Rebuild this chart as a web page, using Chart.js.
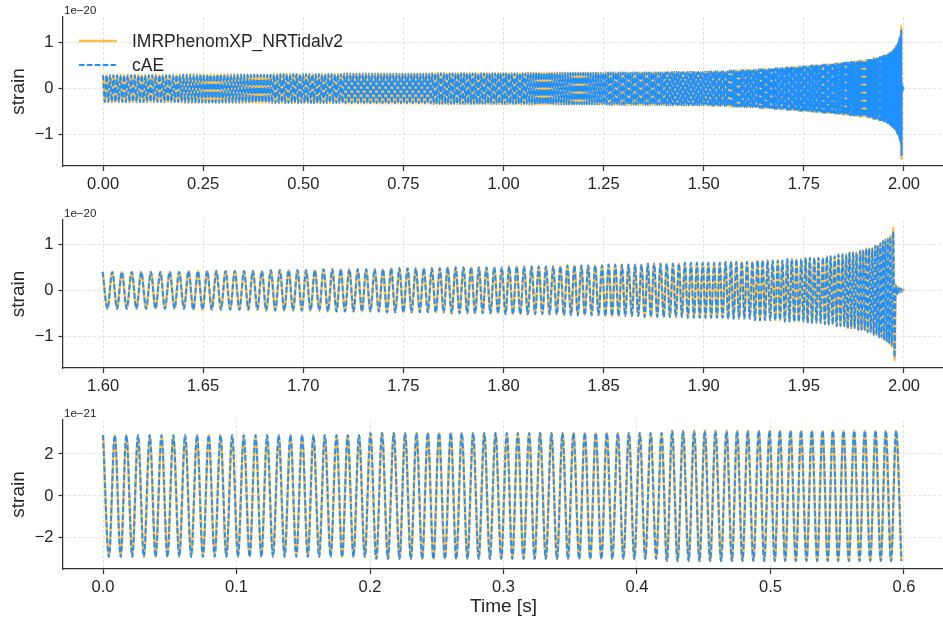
<!DOCTYPE html>
<html lang="en">
<head>
<meta charset="UTF-8">
<title>Waveform comparison</title>
<script src="https://cdn.jsdelivr.net/npm/chart.js"></script>
<style>
  * { margin: 0; padding: 0; box-sizing: border-box; }
  body { background: #fff; width: 943px; height: 629px; position: relative; overflow: hidden; }
  canvas { position: absolute; left: 0; }
  #top { top: 0; }
  #mid { top: 200px; }
  #low { top: 400px; }
</style>
</head>
<body>
<canvas id="top" width="946" height="200"></canvas>
<canvas id="mid" width="946" height="200"></canvas>
<canvas id="low" width="946" height="229"></canvas>
<script>
// times of successive maxima/minima of the strain, in ms
const tEarly = [
  0, 4.4, 8.8, 13.2, 17.5, 21.9, 26.2, 30.6, 35.0, 39.4, 43.8, 48.2, 52.6, 57.1, 61.5, 66.0, 70.4, 74.8, 79.2, 83.6,
  88.0, 92.4, 96.7, 101.1, 105.4, 109.8, 114.2, 118.6, 122.9, 127.3, 131.6, 136.0, 140.4, 144.8, 149.1, 153.4, 157.6, 161.9, 166.1, 170.5,
  174.9, 179.1, 183.3, 187.6, 191.8, 196.1, 200.3, 204.7, 209.0, 213.4, 217.8, 222.1, 226.3, 230.6, 234.8, 239.1, 243.3, 247.5, 251.7, 256.1,
  260.5, 264.6, 268.7, 273.0, 277.2, 281.4, 285.6, 289.8, 294.0, 298.3, 302.5, 306.6, 310.7, 315.0, 319.2, 323.3, 327.4, 331.7, 335.9, 340.1,
  344.2, 348.3, 352.4, 356.7, 360.9, 365.0, 369.1, 373.3, 377.4, 381.5, 385.6, 389.8, 393.9, 398.0, 402.1, 406.2, 410.3, 414.4, 418.4, 422.4,
  426.3, 430.4, 434.5, 438.7, 442.8, 446.8, 450.8, 454.8, 458.8, 463.0, 467.1, 471.1, 475.0, 479.0, 483.0, 487.2, 491.3, 495.3, 499.3, 503.2,
  507.0, 511.0, 515.0, 519.0, 522.9, 527.0, 531.0, 535.0, 539.0, 542.9, 546.7, 550.7, 554.7, 558.7, 562.7, 566.7, 570.7, 574.7, 578.7, 582.6,
  586.4, 590.3, 594.1, 598.1
];
const tMid = [
  601.9, 605.7, 609.6, 613.5, 617.4, 621.2, 625.1, 629.0, 632.9, 636.7, 640.6, 644.5, 648.4, 652.2, 656.1, 660.0, 663.9, 667.7, 671.6,
  675.4, 679.2, 683.0, 686.8, 690.6, 694.4, 698.2, 702.0, 705.8, 709.6, 713.4, 717.2, 721.0, 724.8, 728.6, 732.4, 736.2, 740.0, 743.8, 747.6,
  751.3, 755.0, 758.7, 762.4, 766.2, 769.9, 773.6, 777.3, 781.0, 784.7, 788.4, 792.2, 795.9, 799.6, 803.3, 807.0, 810.7, 814.4, 818.2, 821.9,
  825.5, 829.1, 832.8, 836.4, 840.0, 843.6, 847.3, 850.9, 854.5, 858.1, 861.8, 865.4, 869.0, 872.7, 876.3, 879.9, 883.5, 887.2, 890.8, 894.4,
  898.0, 901.5, 905.0, 908.6, 912.1, 915.7, 919.2, 922.8, 926.3, 929.8, 933.4, 936.9, 940.5, 944.0, 947.5, 951.1, 954.6, 958.2, 961.7, 965.2,
  968.7, 972.1, 975.6, 979.0, 982.5, 986.0, 989.4, 992.9, 996.3, 999.8, 1003.2, 1006.7, 1010.1, 1013.6, 1017.0, 1020.5, 1023.9, 1027.4, 1030.8, 1034.3,
  1037.6, 1041.0, 1044.4, 1047.7, 1051.1, 1054.5, 1057.8, 1061.2, 1064.5, 1067.9, 1071.3, 1074.6, 1078.0, 1081.3, 1084.7, 1088.1, 1091.4, 1094.8, 1098.2, 1101.5,
  1104.8, 1108.1, 1111.3, 1114.6, 1117.9, 1121.1, 1124.4, 1127.7, 1131.0, 1134.2, 1137.5, 1140.8, 1144.0, 1147.3, 1150.6, 1153.8, 1157.1, 1160.4, 1163.7, 1166.9,
  1170.1, 1173.3, 1176.4, 1179.6, 1182.8, 1186.0, 1189.2, 1192.3, 1195.5, 1198.7, 1201.9, 1205.0, 1208.2, 1211.4, 1214.6, 1217.7, 1220.9, 1224.1, 1227.3, 1230.5,
  1233.5, 1236.6, 1239.7, 1242.8, 1245.9, 1248.9, 1252.0, 1255.1, 1258.2, 1261.3, 1264.3, 1267.4, 1270.5, 1273.6, 1276.7, 1279.8, 1282.8, 1285.9, 1289.0, 1292.1,
  1295.1, 1298.0, 1301.0, 1304.0, 1307.0, 1310.0, 1313.0, 1315.9, 1318.9, 1321.9, 1324.9, 1327.9, 1330.9, 1333.8, 1336.8, 1339.8, 1342.8, 1345.8, 1348.8, 1351.8,
  1354.6, 1357.5, 1360.4, 1363.3, 1366.2, 1369.1, 1371.9, 1374.8, 1377.7, 1380.6, 1383.5, 1386.4, 1389.2, 1392.1, 1395.0, 1397.9, 1400.8, 1403.7, 1406.5, 1409.4,
  1412.2, 1415.0, 1417.8, 1420.6, 1423.3, 1426.1, 1428.9, 1431.7, 1434.5, 1437.2, 1440.0, 1442.8, 1445.6, 1448.4, 1451.2, 1453.9, 1456.7, 1459.5, 1462.3, 1465.1,
  1467.7, 1470.4, 1473.1, 1475.8, 1478.5, 1481.1, 1483.8, 1486.5, 1489.2, 1491.8, 1494.5, 1497.2, 1499.9, 1502.6, 1505.2, 1507.9, 1510.6, 1513.3, 1515.9, 1518.6,
  1521.2, 1523.8, 1526.3, 1528.9, 1531.5, 1534.0, 1536.6, 1539.2, 1541.7, 1544.3, 1546.9, 1549.5, 1552.0, 1554.6, 1557.2, 1559.7, 1562.3, 1564.9, 1567.4, 1570.0,
  1572.5, 1575.0, 1577.5, 1579.9, 1582.4, 1584.9, 1587.4, 1589.9, 1592.4, 1594.8, 1597.3
];
const tLate = [
  1599.8, 1602.2, 1604.6, 1607.0, 1609.4, 1611.8, 1614.3, 1616.7, 1619.1, 1621.5,
  1623.9, 1626.2, 1628.6, 1630.9, 1633.3, 1635.7, 1638.0, 1640.4, 1642.7, 1645.1,
  1647.4, 1649.7, 1652.0, 1654.3, 1656.6, 1658.9, 1661.2, 1663.5, 1665.8, 1668.1,
  1670.4, 1672.6, 1674.8, 1677.1, 1679.3, 1681.5, 1683.8, 1686.0, 1688.3, 1690.5,
  1692.7, 1694.9, 1697.1, 1699.3, 1701.4, 1703.6, 1705.8, 1708.0, 1710.1, 1712.3,
  1714.5, 1716.6, 1718.7, 1720.8, 1723.0, 1725.1, 1727.2, 1729.3, 1731.4, 1733.5,
  1735.7, 1737.7, 1739.8, 1741.8, 1743.9, 1745.9, 1748.0, 1750.0, 1752.1, 1754.1,
  1756.2, 1758.2, 1760.2, 1762.2, 1764.2, 1766.2, 1768.2, 1770.1, 1772.1, 1774.1,
  1776.1, 1778.0, 1780.0, 1781.9, 1783.8, 1785.8, 1787.7, 1789.6, 1791.5, 1793.5,
  1795.4, 1797.3, 1799.1, 1801.0, 1802.8, 1804.7, 1806.6, 1808.4, 1810.3, 1812.1,
  1814.0, 1815.8, 1817.6, 1819.4, 1821.2, 1823.0, 1824.8, 1826.6, 1828.4, 1830.2,
  1831.9, 1833.7, 1835.4, 1837.1, 1838.9, 1840.6, 1842.3, 1844.0, 1845.8, 1847.5,
  1849.2, 1850.9, 1852.5, 1854.2, 1855.8, 1857.5, 1859.1, 1860.8, 1862.4, 1864.1,
  1865.7, 1867.3, 1868.9, 1870.5, 1872.1, 1873.6, 1875.2, 1876.8, 1878.4, 1880.0,
  1881.5, 1883.1, 1884.6, 1886.1, 1887.6, 1889.1, 1890.6, 1892.1, 1893.6, 1895.1,
  1896.6, 1898.0, 1899.5, 1900.9, 1902.3, 1903.7, 1905.2, 1906.6, 1908.0, 1909.4,
  1910.9, 1912.2, 1913.6, 1914.9, 1916.3, 1917.6, 1919.0, 1920.3, 1921.6, 1923.0,
  1924.3, 1925.6, 1926.9, 1928.1, 1929.4, 1930.6, 1931.9, 1933.2, 1934.4, 1935.7,
  1937.0, 1938.1, 1939.3, 1940.5, 1941.7, 1942.8, 1944.0, 1945.2, 1946.3, 1947.5,
  1948.7, 1949.8, 1950.9, 1951.9, 1953.0, 1954.1, 1955.2, 1956.3, 1957.3, 1958.4,
  1959.5, 1960.5, 1961.5, 1962.4, 1963.4, 1964.4, 1965.4, 1966.4, 1967.3, 1968.3,
  1969.3, 1970.2, 1971.1, 1971.9, 1972.8, 1973.7, 1974.6, 1975.4, 1976.3, 1977.2,
  1978.1, 1978.8, 1979.6, 1980.4, 1981.1, 1981.9, 1982.6, 1983.4, 1984.2, 1984.9,
  1985.7, 1986.3, 1986.9, 1987.6, 1988.2, 1988.8, 1989.5, 1990.1, 1990.7, 1991.4,
  1992.0, 1992.6, 1993.2, 1993.9, 1994.6, 1995.3,
  1995.9, 1996.5, 1997.1, 1997.7, 1998.3, 1998.9, 1999.5, 2000.0
];

// strain at those extrema, in units of 1e-22 (IMRPhenomXP_NRTidalv2)
const hEarly = [
  29,-29,29,-29,29,-29,29,-29,29,-29,29,-29,29,-29,29,-29,29,-29,29,-29,29,-29,29,-29,
  29,-29,29,-29,29,-29,29,-29,29,-29,29,-29,29,-29,29,-29,29,-29,29,-29,29,-29,
  30,-30,30,-30,30,-30,30,-30,30,-30,30,-30,30,-30,30,-30,30,-30,30,-30,30,-30,30,-30,30,-30,
  30,-30,30,-30,30,-30,30,-30,30,-30,30,-30,30,-30,30,-30,30,-30,30,-30,30,-30,30,-30,30,-30,30,
  -31,31,-31,31,-31,31,-31,31,-31,31,-31,31,-31,31,-31,31,-31,31,-31,31,-31,31,-31,
  31,-31,31,-31,31,-31,31,-31,31,-31,31,-31,31,-31,31,-31,31,-31,31,-31,31,-31
];
const hMid = [
  32,-32,32,-32,32,-32,32,-32,32,-32,32,-32,32,-32,32,-32,32,-32,32,-32,32,-32,32,-32,32,-32,32,-32,32,-32,
  32,-32,32,-32,32,-32,32,-32,32,-32,32,-32,32,-32,32,-32,32,-32,32,-32,32,-32,32,-32,32,-32,32,-32,
  33,-33,33,-33,33,-33,33,-33,33,-33,33,-33,33,-33,33,-33,33,-33,33,-33,33,-33,33,-33,33,-33,33,-33,33,-33,33,-33,33,-33,
  33,-33,33,-33,33,-33,33,-33,33,-33,33,-33,33,-33,33,-33,33,-33,33,-33,33,-33,33,-33,33,-33,33,-33,33,-33,33,-33,33,-33,
  34,-34,34,-34,34,-34,34,-34,34,-34,34,-34,34,-34,34,-34,34,-34,34,-34,34,-34,34,-34,34,-34,34,-34,34,-34,
  34,-34,34,-34,34,-34,34,-34,34,-34,34,-34,34,-34,34,-34,34,-34,34,-34,34,-34,34,-34,34,-34,34,-34,34,-34,
  35,-35,35,-35,35,-35,35,-35,35,-35,35,-35,35,-35,35,-35,35,-35,35,-35,35,-35,35,-35,35,-35,
  35,-35,35,-35,35,-35,35,-35,35,-35,35,-35,35,-35,35,-35,35,-35,35,-35,35,-35,35,-35,
  36,-36,36,-36,36,-36,36,-36,36,-36,36,-36,36,-36,36,-36,36,-36,36,-36,
  36,-36,36,-36,36,-36,36,-36,36,-36,36,-36,36,-36,36,-36,36,-36,36,-36,
  37,-37,37,-37,37,-37,37,-37,37,-37,37,-37,37,-37,37,-37,37,-37,37,-37,
  39,-39,39,-39,39,-39,39,-39,39,-39,39,-39
];
const hLate = [
  40,-40,40,-40,40,-40,40,-40,40,-40,
  40,-40,40,-40,40,-40,40,-40,42,-42,
  42,-42,42,-42,42,-42,42,-42,42,-42,
  42,-42,42,-42,42,-44,44,-44,44,-44,
  44,-44,44,-44,44,-44,44,-44,46,-46,
  46,-46,46,-46,46,-46,46,-46,46,-46,
  46,-46,46,-48,48,-48,48,-48,48,-48,
  48,-48,48,-48,48,-48,48,-48,50,-50,
  50,-50,50,-50,50,-50,50,-50,50,-50,
  50,-50,50,-52,52,-52,52,-52,52,-52,
  52,-52,52,-52,52,-52,52,-52,52,-54,
  54,-54,54,-54,54,-54,54,-54,54,-54,
  54,-56,56,-56,56,-56,56,-56,56,-56,
  56,-56,56,-58,58,-58,58,-58,58,-58,
  58,-58,58,-58,58,-58,60,-60,60,-60,
  60,-60,60,-60,60,-60,60,-60,60,-60,
  62,-62,62,-62,62,-62,62,-62,62,-62,
  62,-65,65,-65,65,-65,65,-65,65,-65,
  65,-65,65,-68,68,-68,68,-68,68,-68,
  68,-68,71,-71,71,-71,71,-71,71,-71,
  71,-74,74,-74,74,-74,74,-78,78,-78,
  78,-78,78,-82,82,-82,82,-82,82,-86,
  86,-86,86,-86,91,-91,91,-91,91,-97,
  97,-97,97,-102,102,-102,107,-108,110,-111,
  113,-116,119,-123,136,-152,
  12,-9,7,-5,4,-3,2,0
];
// cAE follows the same track but peaks a little lower through the merger
const hTailCAE = [111,-114,116,-119,128,-146, 11,-8,6,-5,4,-3,2,0];

const ticksTopX = [0, 0.25, 0.5, 0.75, 1, 1.25, 1.5, 1.75, 2];
const ticksMidX = [1.6, 1.65, 1.7, 1.75, 1.8, 1.85, 1.9, 1.95, 2];
const ticksLowX = [0, 0.1, 0.2, 0.3, 0.4, 0.5, 0.6];
const ticksY20 = [-1, 0, 1];
const ticksY21 = [-2, 0, 2];

const ORANGE = 'rgb(255,192,77)';
const BLUE = '#1e90ff';
const INK = '#262626';
const FONT = "'Liberation Sans', Arial, sans-serif";

Chart.defaults.font.family = FONT;
Chart.defaults.color = INK;

function points(times, values, unit) {
  return times.map((t, i) => ({ x: t / 1000, y: values[i] / unit }));
}

const tAll = tEarly.concat(tMid, tLate);
const hAll = hEarly.concat(hMid, hLate);
const hLateB = hLate.slice(0, hLate.length - hTailCAE.length).concat(hTailCAE);
const hAllB = hEarly.concat(hMid, hLateB);

function minusLabel(v) {
  return v < 0 ? '\u2212' + Math.abs(v) : String(v);
}

// offset text, y label, x label and legend
const annotations = {
  id: 'annotations',
  afterDraw(chart, args, o) {
    const ctx = chart.ctx, a = chart.chartArea;
    ctx.save();
    ctx.fillStyle = INK;
    ctx.font = '11.5px ' + FONT;
    ctx.textAlign = 'left';
    ctx.textBaseline = 'alphabetic';
    ctx.fillText(o.offset, a.left + 1, a.top - 3);

    ctx.save();
    ctx.font = '19px ' + FONT;
    ctx.translate(19, (a.top + a.bottom) / 2);
    ctx.rotate(-Math.PI / 2);
    ctx.textAlign = 'center';
    ctx.textBaseline = 'middle';
    ctx.fillText('strain', 0, 0);
    ctx.restore();

    if (o.xlabel) {
      ctx.font = '19px ' + FONT;
      ctx.textAlign = 'center';
      ctx.textBaseline = 'middle';
      ctx.fillText(o.xlabel, (a.left + a.right) / 2, o.xlabelY);
    }

    if (o.legend) {
      const rows = [
        { text: 'IMRPhenomXP_NRTidalv2', color: ORANGE, width: 2.6, dash: [], y: 41 },
        { text: 'cAE', color: BLUE, width: 1.9, dash: [5.5, 2.4], y: 65 }
      ];
      rows.forEach(r => {
        ctx.save();
        ctx.strokeStyle = r.color;
        ctx.lineWidth = r.width;
        ctx.setLineDash(r.dash);
        ctx.beginPath();
        ctx.moveTo(79, r.y);
        ctx.lineTo(117, r.y);
        ctx.stroke();
        ctx.restore();
        ctx.font = '17.5px ' + FONT;
        ctx.textAlign = 'left';
        ctx.textBaseline = 'middle';
        ctx.fillStyle = INK;
        ctx.fillText(r.text, 132, r.y + 1);
      });
    }
    ctx.restore();
  }
};

function panel(id, p) {
  const grid = {
    color: 'rgba(0,0,0,0.14)',
    lineWidth: 0.8,
    tickColor: '#333',
    tickWidth: 1.25
  };
  const border = { display: true, color: '#333', width: 1.25, dash: [3, 2] };
  new Chart(document.getElementById(id), {
    type: 'line',
    data: {
      datasets: [
        { label: 'IMRPhenomXP_NRTidalv2', data: p.orange, borderColor: ORANGE, borderWidth: 2.6, order: 2 },
        { label: 'cAE', data: p.blue, borderColor: BLUE, borderWidth: 1.9, borderDash: [5.5, 2.4], order: 1 }
      ]
    },
    options: {
      responsive: false,
      animation: false,
      devicePixelRatio: 1,
      layout: { padding: { top: p.top, right: 2, bottom: 0, left: 0 } },
      elements: {
        point: { radius: 0 },
        line: { cubicInterpolationMode: 'monotone', fill: false }
      },
      plugins: {
        legend: { display: false },
        tooltip: { enabled: false },
        annotations: { offset: p.offset, legend: p.legend, xlabel: p.xlabel, xlabelY: p.xlabelY }
      },
      scales: {
        x: {
          type: 'linear',
          min: p.xmin,
          max: p.xmax,
          afterFit: s => { s.height = p.xh; },
          afterBuildTicks: s => { s.ticks = p.xticks.map(v => ({ value: v })); },
          ticks: {
            autoSkip: false,
            maxRotation: 0,
            padding: 4,
            font: { size: 16.5 },
            color: INK,
            callback: v => v.toFixed(p.xdec)
          },
          grid: Object.assign({ tickLength: 5 }, grid),
          border: border
        },
        y: {
          type: 'linear',
          min: p.ymin,
          max: p.ymax,
          afterFit: s => { s.width = 63; },
          afterBuildTicks: s => { s.ticks = p.yticks.map(v => ({ value: v })); },
          ticks: {
            padding: 5,
            font: { size: 16.5 },
            color: INK,
            callback: v => minusLabel(v)
          },
          grid: Object.assign({ tickLength: 4.5 }, grid),
          border: border
        }
      }
    },
    plugins: [annotations]
  });
}

panel('top', {
  orange: points(tAll, hAll, 100), blue: points(tAll, hAllB, 100),
  top: 17, xh: 34, xmin: -0.1, xmax: 2.1, xticks: ticksTopX, xdec: 2,
  ymin: -1.675, ymax: 1.55, yticks: ticksY20, offset: '1e\u221220', legend: true
});
panel('mid', {
  orange: points(tLate, hLate, 100), blue: points(tLate, hLateB, 100),
  top: 20, xh: 32, xmin: 1.58, xmax: 2.02, xticks: ticksMidX, xdec: 2,
  ymin: -1.69, ymax: 1.53, yticks: ticksY20, offset: '1e\u221220'
});
panel('low', {
  orange: points(tEarly, hEarly, 10), blue: points(tEarly, hEarly, 10),
  top: 20, xh: 60, xmin: -0.03, xmax: 0.63, xticks: ticksLowX, xdec: 1,
  ymin: -3.48, ymax: 3.62, yticks: ticksY21, offset: '1e\u221221',
  xlabel: 'Time [s]', xlabelY: 207
});
</script>
</body>
</html>
